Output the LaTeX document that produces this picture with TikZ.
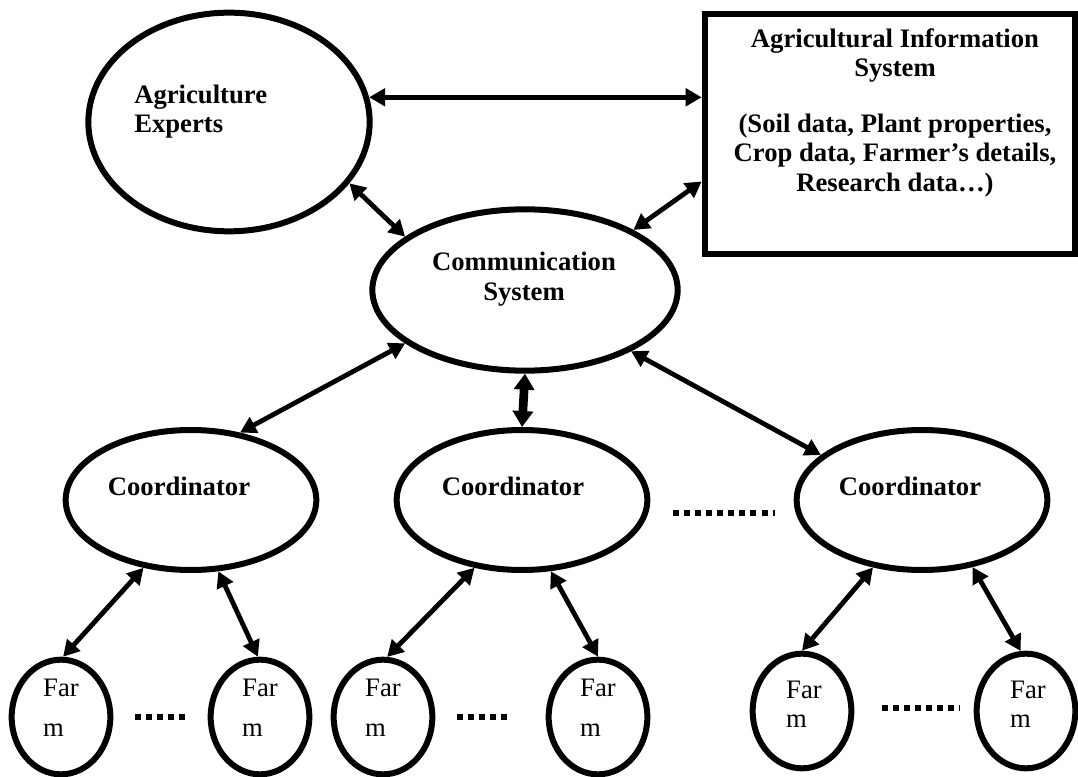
\documentclass[tikz,border=0pt]{standalone}
\usepackage{fontspec}
\setmainfont{Liberation Serif}
\usetikzlibrary{arrows.meta,shapes.geometric,calc}

\begin{document}
\begin{tikzpicture}[
		x=0.75pt,y=-0.75pt,
		every node/.style={font=\fontsize{20}{22}\selectfont},
		blob/.style={draw,ellipse,line width=4.5pt,inner sep=0pt},
		coord/.style={blob,minimum width=188pt,minimum height=105pt},
		farm/.style={blob,minimum width=74pt,minimum height=86pt},
		txt/.style={inner sep=0pt,align=center,font=\fontsize{20}{22}\selectfont\bfseries},
		farmtxt/.style={inner sep=0pt,align=left,font=\fontsize{20}{30}\selectfont},
		link/.style={{Triangle[length=12pt,width=13pt]}-{Triangle[length=12pt,width=13pt]},line width=3.6pt},
		dots/.style={line width=5pt,dash pattern=on 4.5pt off 3.8pt}
	]
	\useasboundingbox (0,0) rectangle (1078,777);

	%top row
		\node[blob,minimum width=211pt,minimum height=164pt] (exp) at (229,122) {};
		\node[txt,align=left,anchor=west] (expt) at (134,111.5) {Agriculture\\Experts};
		\node[draw,line width=4.5pt,inner sep=0pt,minimum width=278pt,minimum height=180pt] (ais) at (890,134.5) {};
		\node[txt] (aist) at (895,112.5) {Agricultural Information\\System\\[20pt](Soil data, Plant properties,\\Crop data, Farmer’s details,\\Research data…)};
	%communication system
		\node[blob,minimum width=229pt,minimum height=121pt] (comm) at (525,290) {};
		\node[txt] (commt) at (524,279) {Communication\\System};
	%coordinators
		\foreach \i/\x/\tx in {1/191/179, 2/522/513, 3/922/910}
		{
			\node[coord] (c\i) at (\x,500) {};
			\node[txt] (c\i t) at (\tx,486) {Coordinator};
		}
	%farms
		\foreach \i/\x/\y in {1/61/717, 2/260/717, 3/383/717, 4/598/717}
		{
			\node[farm] (f\i) at (\x,\y) {};
			\node[farmtxt] (f\i t) at (\x,708) {Far\\m};
		}
		\foreach \i/\x in {5/802, 6/1026}
		{
			\node[farm] (f\i) at (\x,711) {};
			\node[farmtxt,font=\fontsize{20}{22}\selectfont] (f\i t) at (\x+2,704) {Far\\m};
		}
	%links
		\draw[link] (exp.10) -- (exp.10 -| ais.west);
		\draw[link] (exp.-27) -- (comm.156);
		\draw[link] (ais.-166) -- (comm.29);
		\draw[link] (comm.-156) -- (c1.54);
		\draw[{Triangle[length=12pt,width=15pt]}-{Triangle[length=12pt,width=15pt]},line width=6.5pt] (comm.south) -- (c2.north);
		\draw[link] (comm.-30) -- (c3.156);
		\draw[link] (c1.-125) -- (f1.88);
		\draw[link] (c1.-69) -- (f2.92);
		\draw[link] (c2.-125) -- (f3.86);
		\draw[link] (c2.-68) -- (f4.90);
		\draw[link] (c3.-126) -- (f5.90);
		\draw[link] (c3.-53) -- (f6.95);
	%dots
		\draw[dots] (673,513) -- (775,513);
		\draw[dots,line width=4.5pt] (135,717) -- (187,717);
		\draw[dots,line width=4.5pt] (457,717) -- (509,717);
		\draw[dots,line width=4.5pt] (882,708) -- (960,708);
	\end{tikzpicture}
\end{document}
